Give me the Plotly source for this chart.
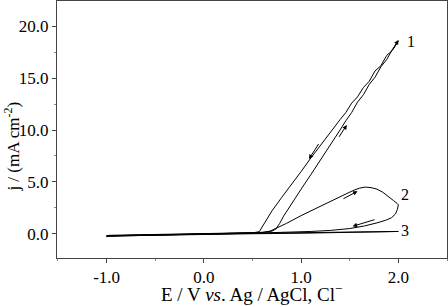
import plotly.graph_objects as go

# curve 1 - forward scan (flat part + right branch)
c1_fwd_E = [-1.0, -0.97, -0.8, -0.5, -0.2, 0.0, 0.3, 0.5, 0.62, 0.7, 0.74, 0.78, 0.82, 0.9, 1.0, 1.1, 1.2, 1.3,
            1.4, 1.46, 1.52, 1.58, 1.64, 1.7, 1.76, 1.82, 1.88, 1.94, 2.0]
c1_fwd_j = [-0.3, -0.15, -0.12, -0.08, -0.04, -0.01, 0.05, 0.1, 0.15, 0.25, 0.45, 1.0, 1.7, 2.9, 4.3, 5.7, 7.1, 8.6,
            10.0, 10.9, 11.7, 12.7, 13.4, 14.4, 15.1, 16.1, 16.8, 17.8, 18.6]
# curve 1 - reverse scan (left branch + flat part)
c1_rev_E = [2.0, 1.94, 1.88, 1.82, 1.76, 1.7, 1.64, 1.58, 1.52, 1.46, 1.4, 1.3, 1.2, 1.1, 1.0, 0.9, 0.8, 0.7,
            0.64, 0.6, 0.57, 0.5, 0.2, -0.2, -0.6, -1.0]
c1_rev_j = [18.6, 17.7, 17.2, 16.2, 15.7, 14.7, 14.1, 13.2, 12.6, 11.7, 11.0, 9.8, 8.5, 7.3, 6.0, 4.8, 3.5, 2.2,
            1.3, 0.6, 0.2, 0.08, 0.02, -0.05, -0.1, -0.2]

# curve 2
c2_E = [-1.0, -0.5, 0.0, 0.4, 0.6, 0.68, 0.75, 0.85, 1.0, 1.15, 1.3, 1.45, 1.53, 1.6, 1.66, 1.72, 1.78, 1.84,
        1.9, 1.95, 1.99, 2.0, 1.99, 1.97, 1.93, 1.87, 1.78, 1.65, 1.5, 1.3, 1.1, 0.9, 0.7, 0.5, 0.0, -0.5, -1.0]
c2_j = [-0.25, -0.12, -0.03, 0.05, 0.12, 0.25, 0.55, 1.0, 1.75, 2.45, 3.1, 3.8, 4.15, 4.4, 4.5, 4.45, 4.3, 4.0,
        3.6, 3.2, 2.9, 2.8, 2.35, 1.9, 1.55, 1.3, 1.05, 0.75, 0.5, 0.32, 0.22, 0.15, 0.1, 0.05, -0.05, -0.12, -0.2]

# curve 3
c3_E = [-1.0, -0.5, 0.0, 0.5, 1.0, 1.5, 2.0, 1.5, 1.0, 0.5, 0.0, -0.5, -1.0]
c3_j = [-0.2, -0.1, -0.03, 0.05, 0.1, 0.15, 0.22, 0.1, 0.05, 0.0, -0.06, -0.12, -0.22]

curve_labels = ["1", "2", "3"]
label_E = [2.13, 2.07, 2.07]
label_j = [18.5, 3.8, 0.3]

x_tickvals = [-1, 0, 1, 2]
x_ticktext = ["-1.0", "0.0", "1.0", "2.0"]
y_tickvals = [0, 5, 10, 15, 20]
y_ticktext = ["0.0", "5.0", "10.0", "15.0", "20.0"]

# scan direction arrows: (tail E, tail j, head E, head j)
arrows = [
    (1.19, 8.8, 1.08, 7.2),
    (1.38, 9.2, 1.47, 10.5),
    (1.42, 3.3, 1.58, 4.1),
    (1.77, 1.4, 1.53, 0.72),
    (1.94, 17.7, 2.0, 18.7),
]

fnt = "Liberation Serif"
fig = go.Figure()
for xs, ys in [(c1_fwd_E, c1_fwd_j), (c1_rev_E, c1_rev_j), (c2_E, c2_j), (c3_E, c3_j)]:
    fig.add_trace(go.Scatter(x=xs, y=ys, mode="lines", line=dict(color="black", width=1), showlegend=False))

for t, x, y in zip(curve_labels, label_E, label_j):
    fig.add_annotation(x=x, y=y, text=t, showarrow=False, font=dict(size=16))

for ax, ay, hx, hy in arrows:
    fig.add_annotation(x=hx, y=hy, ax=ax, ay=ay, axref="x", ayref="y", text="", showarrow=True,
                       arrowhead=2, arrowsize=0.9, arrowwidth=1, arrowcolor="black")

fig.add_annotation(xref="paper", yref="paper", x=0.5, y=-0.19, xanchor="center", yanchor="bottom",
                   text="E / V <i>vs</i>. Ag / AgCl, Cl<sup>\u2212</sup>",
                   showarrow=False, font=dict(size=19))
fig.add_annotation(xref="paper", yref="paper", x=-0.115, y=0.434, xanchor="center", yanchor="middle",
                   text="j / (mA cm<sup>-2</sup>)", textangle=-90,
                   showarrow=False, font=dict(size=17))

fig.update_xaxes(range=[-1.51, 2.5], tickvals=x_tickvals, ticktext=x_ticktext,
                 ticks="outside", ticklen=4, tickcolor="#444", showline=True, linecolor="#444", linewidth=1,
                 mirror=True, showgrid=False, zeroline=False,
                 minor=dict(ticks="outside", ticklen=2, dtick=0.5, tick0=0.5, tickcolor="#888"),
                 tickfont=dict(size=17))
fig.update_yaxes(range=[-2.34, 22.45], tickvals=y_tickvals, ticktext=y_ticktext,
                 ticks="outside", ticklen=4, tickcolor="#444", showline=True, linecolor="#444", linewidth=1,
                 mirror=True, showgrid=False, zeroline=False,
                 minor=dict(ticks="outside", ticklen=2, dtick=2.5, tick0=2.5, tickcolor="#888"),
                 tickfont=dict(size=17))
fig.update_layout(width=448, height=307, margin=dict(l=57, r=1, t=1, b=49),
                  font=dict(family=fnt, color="black"),
                  plot_bgcolor="white", paper_bgcolor="white")
fig.write_html("out.html", config={"displayModeBar": False},
               post_script="document.body.style.margin='0';")
